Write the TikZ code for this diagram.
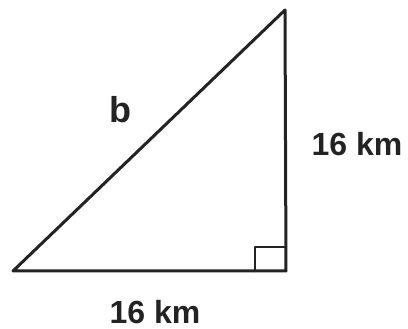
\documentclass[tikz,border=0pt]{standalone}
\usepackage{fontspec}
\setsansfont{Liberation Sans}
\usetikzlibrary{calc}
\definecolor{ink}{HTML}{232323}

\begin{document}
\begin{tikzpicture}[x=1pt,y=-1pt,font=\sffamily\bfseries]
  \useasboundingbox (0,0) rectangle (408,329);
  \tikzset{side/.style={ink,line width=3pt,line cap=round,line join=round},
           lbl/.style={ink,font=\sffamily\bfseries\fontsize{32}{36}\selectfont}}

  % corners of the triangle
  \coordinate (base) at (13,271);
  \coordinate (rgt)  at (286,271);
  \coordinate (apex) at (285,10);

  \draw[side] (base) -- (rgt) -- (apex) -- cycle;

  % right-angle mark
  \draw[side,line width=2.6pt] ($(rgt)+(-31,0)$) -- ++(0,-24) -- ++(31,0);

  % labels
  \node[lbl,font=\sffamily\bfseries\fontsize{36}{40}\selectfont] (hyp) at (120,110) {b};
  \node[lbl] (vert) at (357,144) {16 km};
  \node[lbl] (horz) at (155,312) {16 km};
\end{tikzpicture}
\end{document}
